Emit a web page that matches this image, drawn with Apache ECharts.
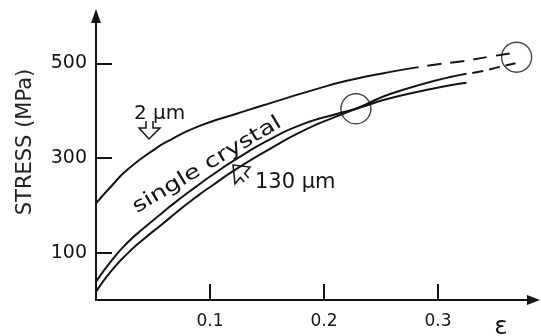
<!DOCTYPE html>
<html>
<head>
<meta charset="utf-8">
<script src="https://cdn.jsdelivr.net/npm/echarts@6/dist/echarts.min.js"></script>
<style>
html,body{margin:0;padding:0;background:#fff;}
#chart{width:541px;height:336px;}
</style>
</head>
<body>
<div id="chart"></div>
<script>
// ---- data ----
const xTicks = [0.1, 0.2, 0.3];
const yTicks = [100, 300, 500];

const grain2Strain = [0, 0.014, 0.028, 0.05, 0.065, 0.091, 0.124, 0.153, 0.194, 0.22, 0.25, 0.283];
const grain2Stress = [204, 242, 276, 316, 338, 368, 394, 416, 446, 463, 478, 492];
const grain2ExtStrain = [0.283, 0.30, 0.32, 0.345, 0.369];
const grain2ExtStress = [492, 498, 504, 514, 523];

const crystalStrain = [0, 0.014, 0.028, 0.043, 0.058, 0.072, 0.087, 0.102, 0.124, 0.153, 0.182, 0.211, 0.228, 0.264, 0.325];
const crystalStress = [38, 84, 122, 154, 184, 211, 238, 264, 299, 340, 372, 393, 404, 430, 459];

const grain130Strain = [0, 0.014, 0.028, 0.043, 0.058, 0.072, 0.087, 0.102, 0.124, 0.153, 0.182, 0.211, 0.228, 0.264, 0.325];
const grain130Stress = [17, 63, 99, 131, 160, 188, 216, 242, 278, 320, 358, 388, 404, 440, 478];
const lowerExtStrain = [0.325, 0.34, 0.353, 0.368];
const lowerExtStress = [478, 484, 492, 500];

const circleStrain = [0.228, 0.369];
const circleStress = [404, 513];

// ---- chart ----
const zip = (xs, ys) => xs.map((x, i) => [x, ys[i]]);
const INK = '#141414';
const FONT = 'DejaVu Sans';

const lineSeries = (data, opts) => Object.assign({
  type: 'line', data: data, symbol: 'none', smooth: 0.6,
  lineStyle: { color: INK, width: 2 }, silent: true, animation: false
}, opts || {});

const chart = echarts.init(document.getElementById('chart'), null, { renderer: 'canvas' });

function hollowArrow(points) {
  return { type: 'polyline', shape: { points: points }, silent: true,
    style: { stroke: INK, lineWidth: 1.5, fill: null } };
}

chart.setOption({
  animation: false,
  backgroundColor: '#fff',
  grid: { left: 96, right: 7.5, top: 16, bottom: 36 },
  xAxis: {
    type: 'value', min: 0, max: 0.3838,
    axisLine: { show: true, lineStyle: { color: INK, width: 2 }, symbol: ['none', 'triangle'], symbolSize: [10, 13] },
    axisTick: { show: true, inside: true, length: 16, customValues: xTicks, lineStyle: { color: INK, width: 2 } },
    axisLabel: { customValues: xTicks, formatter: v => v.toFixed(1), fontSize: 17, fontFamily: FONT, color: INK, margin: 13 },
    splitLine: { show: false }
  },
  yAxis: {
    type: 'value', min: 0, max: 600,
    axisLine: { show: true, lineStyle: { color: INK, width: 2 }, symbol: ['none', 'triangle'], symbolSize: [10, 14] },
    axisTick: { show: true, inside: true, length: 16, customValues: yTicks, lineStyle: { color: INK, width: 2 } },
    axisLabel: { customValues: yTicks, fontSize: 19, fontFamily: FONT, color: INK, margin: 9 },
    splitLine: { show: false }
  },
  series: [
    lineSeries(zip(grain2Strain, grain2Stress), { name: '2 μm' }),
    lineSeries(zip(grain2ExtStrain, grain2ExtStress), { name: '2 μm ext', lineStyle: { color: INK, width: 2, type: [14, 9], dashOffset: 14 } }),
    lineSeries(zip(crystalStrain, crystalStress), { name: 'single crystal' }),
    lineSeries(zip(grain130Strain, grain130Stress), { name: '130 μm' }),
    lineSeries(zip(lowerExtStrain, lowerExtStress), { name: 'lower ext', lineStyle: { color: INK, width: 2, type: [11, 6], dashOffset: 11 } }),
    {
      type: 'scatter', data: zip(circleStrain, circleStress), symbol: 'circle', symbolSize: 30,
      itemStyle: { color: 'rgba(0,0,0,0)', borderColor: INK, borderWidth: 1.4 }, silent: true, z: 5
    }
  ],
  graphic: [
    { type: 'text', x: 26, y: 142, rotation: Math.PI / 2, silent: true,
      style: { text: 'STRESS (MPa)', fontSize: 21, fontFamily: FONT, fill: '#222', align: 'center', verticalAlign: 'middle' } },
    { type: 'text', x: 501, y: 327, silent: true,
      style: { text: 'ε', fontSize: 25, fontFamily: FONT, fill: INK, align: 'center', verticalAlign: 'middle' } },
    { type: 'text', x: 134, y: 114, silent: true,
      style: { text: '2 μm', fontSize: 20, fontFamily: FONT, fill: INK, align: 'left', verticalAlign: 'middle' } },
    { type: 'text', x: 207, y: 165, rotation: 31 * Math.PI / 180, scaleX: 1.28, silent: true,
      style: { text: 'single crystal', fontSize: 20, fontFamily: FONT, fill: INK, align: 'center', verticalAlign: 'middle' } },
    { type: 'text', x: 255, y: 183, silent: true,
      style: { text: '130 μm', fontSize: 21, fontFamily: FONT, fill: INK, align: 'left', verticalAlign: 'middle' } },
    hollowArrow([[146, 121], [146, 128], [139, 128], [149, 139], [160, 128], [153, 128], [153, 121]]),
    hollowArrow([[248.7, 178], [244.7, 173.5], [250, 167], [233, 165], [235, 184], [240.3, 177.5], [244.3, 182]])
  ]
});
</script>
</body>
</html>
